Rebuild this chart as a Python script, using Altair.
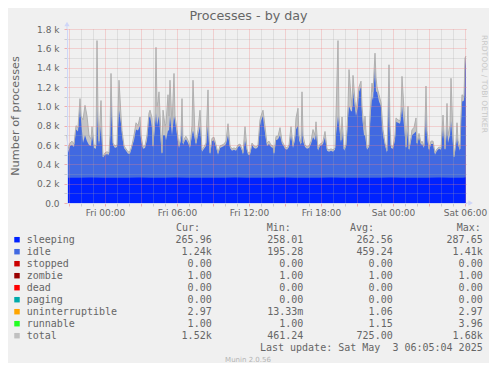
import altair as alt
import pandas as pd

# ---- data ----
# minutes since Thu 20:50 (5 min per pixel column)
minutes = [
    0, 5, 15, 25, 35, 45, 55, 65, 70, 80,
    90, 100, 110, 120, 125, 135, 145, 150, 155, 160,
    170, 175, 180, 190, 200, 210, 215, 220, 225, 230,
    240, 250, 260, 270, 275, 285, 295, 305, 315, 325,
    335, 345, 355, 365, 370, 380, 390, 400, 410, 415,
    425, 430, 440, 445, 450, 455, 460, 470, 475, 480,
    490, 495, 505, 510, 515, 525, 535, 540, 550, 560,
    570, 575, 580, 590, 595, 605, 615, 625, 630, 640,
    645, 655, 665, 675, 685, 695, 705, 710, 715, 725,
    735, 745, 755, 765, 775, 785, 795, 805, 815, 825,
    835, 845, 855, 865, 875, 880, 890, 900, 905, 915,
    925, 935, 945, 955, 965, 970, 980, 985, 995, 1000,
    1010, 1020, 1030, 1035, 1045, 1055, 1065, 1075, 1080, 1090,
    1100, 1110, 1120, 1130, 1140, 1145, 1155, 1160, 1170, 1175,
    1180, 1190, 1200, 1210, 1220, 1230, 1240, 1245, 1255, 1265,
    1275, 1280, 1290, 1300, 1310, 1320, 1330, 1340, 1345, 1355,
    1360, 1370, 1375, 1385, 1395, 1400, 1405, 1410, 1420, 1425,
    1430, 1440, 1445, 1455, 1460, 1470, 1475, 1485, 1490, 1500,
    1510, 1515, 1525, 1530, 1540, 1545, 1550, 1560, 1570, 1575,
    1580, 1590, 1600, 1605, 1610, 1615, 1620, 1630, 1640, 1645,
    1655, 1665, 1670, 1675, 1685, 1695, 1705, 1710, 1720, 1725,
    1735, 1745, 1750, 1760, 1770, 1775, 1785, 1790, 1795, 1800,
    1810, 1820, 1830, 1840, 1850, 1860, 1870, 1880, 1890, 1895,
    1900, 1905, 1915, 1920, 1930, 1935, 1945, 1950, 1955, 1965,
    1970, 1975, 1985, 1990, 1995,
]
total = [
    700, 560, 620, 640, 610, 800, 780, 1080, 900, 860,
    1010, 900, 700, 660, 790, 600, 590, 1680, 900, 640,
    1060, 700, 480, 520, 530, 520, 700, 1340, 900, 620,
    590, 600, 1270, 900, 750, 590, 560, 530, 530, 600,
    700, 830, 800, 890, 700, 580, 590, 700, 930, 960,
    880, 590, 900, 1610, 1000, 1050, 1150, 700, 520, 960,
    800, 820, 1120, 900, 1270, 800, 1340, 900, 760, 590,
    700, 1080, 620, 680, 690, 650, 590, 800, 1270, 700,
    620, 760, 960, 550, 580, 620, 1170, 700, 520, 670,
    680, 600, 520, 590, 600, 610, 640, 820, 590, 560,
    570, 560, 600, 610, 560, 520, 790, 560, 520, 520,
    620, 590, 580, 600, 860, 900, 960, 880, 700, 620,
    640, 600, 590, 520, 690, 690, 780, 640, 620, 580,
    570, 600, 790, 590, 700, 880, 980, 700, 620, 1150,
    700, 600, 580, 590, 640, 760, 700, 840, 560, 610,
    620, 640, 740, 560, 550, 560, 550, 570, 900, 1680,
    900, 650, 890, 560, 600, 760, 1000, 1380, 1100, 1000,
    1320, 1050, 950, 1100, 1200, 1260, 1000, 760, 900, 570,
    600, 900, 1240, 1150, 1550, 1300, 1200, 1120, 1040, 900,
    760, 620, 540, 900, 1430, 800, 590, 580, 700, 880,
    860, 850, 950, 1310, 960, 580, 1000, 560, 680, 760,
    780, 880, 620, 720, 620, 640, 590, 800, 1210, 750,
    560, 640, 640, 520, 560, 580, 570, 910, 560, 700,
    1030, 700, 800, 1290, 700, 480, 640, 830, 650, 560,
    900, 1120, 1100, 1500, 1520,
]
# top of the idle band (sleeping + idle, as drawn)
idle_top = [
    470, 520, 590, 600, 580, 760, 740, 1000, 860, 620,
    700, 640, 600, 590, 700, 570, 560, 1000, 700, 600,
    800, 600, 470, 500, 505, 500, 650, 1200, 800, 600,
    570, 580, 960, 820, 700, 570, 540, 510, 510, 580,
    650, 760, 750, 800, 650, 560, 570, 650, 880, 900,
    780, 570, 800, 930, 800, 850, 900, 600, 500, 700,
    700, 650, 750, 750, 900, 700, 900, 850, 700, 570,
    650, 850, 600, 650, 660, 620, 570, 700, 750, 650,
    600, 700, 800, 530, 560, 590, 800, 620, 500, 640,
    650, 580, 500, 570, 580, 590, 610, 700, 570, 540,
    550, 540, 580, 590, 540, 500, 650, 540, 500, 500,
    600, 570, 560, 580, 800, 850, 900, 800, 650, 590,
    610, 580, 570, 500, 650, 660, 700, 610, 600, 560,
    550, 580, 700, 570, 650, 760, 800, 650, 600, 780,
    640, 580, 560, 570, 610, 680, 650, 720, 540, 590,
    600, 610, 680, 540, 530, 540, 530, 550, 700, 900,
    800, 620, 750, 540, 580, 700, 880, 1000, 950, 950,
    1150, 980, 900, 1000, 1150, 1200, 900, 700, 700, 550,
    580, 820, 1100, 1060, 1400, 1150, 1150, 1050, 1000, 800,
    700, 600, 520, 800, 1290, 700, 570, 560, 650, 840,
    830, 820, 880, 1000, 800, 560, 750, 540, 640, 700,
    720, 740, 600, 680, 600, 610, 570, 700, 950, 680,
    540, 610, 610, 500, 540, 560, 550, 780, 540, 650,
    800, 620, 700, 850, 600, 470, 600, 680, 600, 540,
    850, 1050, 1060, 1420, 1510,
]
sleep_minutes = [
    0, 60, 120, 180, 240, 300, 360, 420, 480, 540,
    600, 660, 720, 780, 840, 900, 960, 1020, 1080, 1140,
    1200, 1260, 1320, 1380, 1440, 1500, 1560, 1620, 1680, 1740,
    1800, 1860, 1920, 1980, 1995,
]
sleeping = [
    262, 261, 263, 262, 260, 262, 264, 262, 261, 263,
    262, 262, 260, 262, 263, 261, 262, 262, 264, 262,
    261, 262, 263, 262, 261, 262, 262, 263, 262, 261,
    262, 263, 262, 262, 266,
]

legend_names = ["sleeping", "idle", "stopped", "zombie", "dead", "paging",
                "uninterruptible", "runnable", "total"]
legend_colors = ["#0022ff", "#4169e1", "#cc0000", "#990000", "#ff0000",
                 "#00aaaa", "#ffa500", "#22ff22", "#c0c0c0"]
cur_vals = ["265.96", "1.24k", "0.00", "1.00", "0.00", "0.00", "2.97", "1.00", "1.52k"]
min_vals = ["258.01", "195.28", "0.00", "1.00", "0.00", "0.00", "13.33m", "1.00", "461.24"]
avg_vals = ["262.56", "459.24", "0.00", "1.00", "0.00", "0.00", "1.06", "1.15", "725.00"]
max_vals = ["287.65", "1.41k", "0.00", "1.00", "0.00", "0.00", "2.97", "3.96", "1.68k"]
col_headers = ["Cur:", "Min:", "Avg:", "Max:"]

x_tick_minutes = [190, 550, 910, 1270, 1630, 1990]
x_tick_labels = ["Fri 00:00", "Fri 06:00", "Fri 12:00", "Fri 18:00", "Sat 00:00", "Sat 06:00"]
y_ticks = [0, 200, 400, 600, 800, 1000, 1200, 1400, 1600, 1800]
y_tick_labels = ["0.0", "0.2 k", "0.4 k", "0.6 k", "0.8 k", "1.0 k", "1.2 k", "1.4 k", "1.6 k", "1.8 k"]

title_text = "Processes - by day"
y_title = "Number of processes"
last_update = "Last update: Sat May\u00a0 3 06:05:04 2025"
watermark = "RRDTOOL / TOBI OETIKER"
footer = "Munin 2.0.56"

# ---- styling ----
W, H = 399, 174
FONT = "DejaVu Sans"
MONO = "DejaVu Sans Mono"
TXT = "#666666"
AXISC = "#cfd6f8"
MAJOR = "rgba(240,130,130,0.6)"
MINOR = "rgba(170,170,170,0.5)"

main = pd.DataFrame({"m": minutes, "total": total, "top": idle_top})
sdf = pd.DataFrame({"m": sleep_minutes, "sleeping": sleeping})
one = pd.DataFrame({"k": [0]})

def expr_map(keys, labels):
    e = "''"
    for k, l in reversed(list(zip(keys, labels))):
        e = f"datum.value == {k} ? '{l}' : ({e})"
    return e

xscale = alt.Scale(domain=[0, 1995], nice=False, zero=False)
yscale = alt.Scale(domain=[0, 1800], nice=False, zero=False)

xaxis = alt.Axis(
    values=list(range(10, 1996, 60)),
    labelExpr=expr_map(x_tick_minutes, x_tick_labels),
    labelOverlap=False, labelFlush=False, labelBound=False,
    grid=True, gridDash=[1, 1], gridWidth=1,
    gridColor={"condition": {"test": "(datum.value - 10) % 180 == 0", "value": MAJOR}, "value": MINOR},
    tickColor={"condition": {"test": "(datum.value - 10) % 180 == 0", "value": MAJOR}, "value": MINOR},
    tickSize=3, labelPadding=2, domainColor=AXISC, title="",
    labelFont=FONT, labelFontSize=9, labelColor=TXT, zindex=1,
)
yaxis = alt.Axis(
    values=list(range(0, 1801, 100)),
    labelExpr=expr_map(y_ticks, y_tick_labels),
    labelOverlap=False, labelFlush=False, labelBound=False,
    grid=True, gridDash=[1, 1], gridWidth=1,
    gridColor={"condition": {"test": "datum.value % 200 == 0", "value": MAJOR}, "value": MINOR},
    tickColor={"condition": {"test": "datum.value % 200 == 0", "value": MAJOR}, "value": MINOR},
    tickSize=3, labelPadding=5, domainColor=AXISC, title="",
    labelFont=FONT, labelFontSize=9, labelColor=TXT, zindex=1,
)

def X(f):
    return alt.X(f"{f}:Q", scale=xscale, axis=xaxis)

def Y(f):
    return alt.Y(f"{f}:Q", scale=yscale, axis=yaxis)

layers = []
layers.append(alt.Chart(main).mark_area(color="#c4c4c4", opacity=1, interpolate="linear")
              .encode(x=X("m"), y=Y("total")))
layers.append(alt.Chart(main).mark_area(color="#4169e1", opacity=1, interpolate="linear")
              .encode(x=X("m"), y=Y("top")))
layers.append(alt.Chart(sdf).mark_area(color="#0022ff", opacity=1, interpolate="linear")
              .encode(x=X("m"), y=Y("sleeping")))
layers.append(alt.Chart(main).mark_line(color="#b0b0b0", strokeWidth=1, interpolate="linear")
              .encode(x=X("m"), y=Y("total")))

# axis extensions and arrows
ext = pd.DataFrame({"m": [0], "v": [1800], "v2": [1848]})
layers.append(alt.Chart(ext).mark_rule(color=AXISC).encode(x=X("m"), y=Y("v"), y2="v2:Q"))
ext2 = pd.DataFrame({"m": [1995], "m2": [2012], "v": [0]})
layers.append(alt.Chart(ext2).mark_rule(color=AXISC).encode(x=X("m"), x2="m2:Q", y=Y("v")))
arr1 = pd.DataFrame({"m": [0], "v": [1852]})
layers.append(alt.Chart(arr1).mark_point(shape="triangle-up", filled=True, size=28, color=AXISC, opacity=1)
              .encode(x=X("m"), y=Y("v")))
arr2 = pd.DataFrame({"m": [2018], "v": [0]})
layers.append(alt.Chart(arr2).mark_point(shape="triangle-right", filled=True, size=28, color=AXISC, opacity=1)
              .encode(x=X("m"), y=Y("v")))

def txt(x, y, s, size=10, color=TXT, align="left", font=MONO, angle=0):
    return alt.Chart(one).mark_text(
        text=s, fontSize=size, color=color, align=align, baseline="middle", font=font, angle=angle
    ).encode(x=alt.value(x), y=alt.value(y))

# titles (kept inside the drawable canvas)
layers.append(txt(181.5, -13, title_text, size=12.7, font=FONT, align="center"))
layers.append(txt(-51, 87, y_title, size=11.3, font=FONT, align="center", angle=270))
layers.append(txt(417, 55, watermark, size=7.6, font=FONT, color="#c8c8c8", align="center", angle=90))
layers.append(txt(181, 331, footer, size=7, font=FONT, color="#b4b4b4", align="center"))

# legend table
col_ends = [144.7, 236.3, 325.7, 415.7]
head_x = [109, 199.7, 283, 389.7]
for hx, h in zip(head_x, col_headers):
    layers.append(txt(hx, 199.3, h))
for i, (name, colr) in enumerate(zip(legend_names, legend_colors)):
    yy = 210.7 + 12 * i
    layers.append(alt.Chart(one).mark_square(size=30, color=colr, opacity=1)
                  .encode(x=alt.value(-50), y=alt.value(yy)))
    layers.append(txt(-40.3, yy, name))
    for ce, vals in zip(col_ends, [cur_vals, min_vals, avg_vals, max_vals]):
        s = vals[i]
        if not s[-1].isalpha():
            s = s + "\u00a0"
        layers.append(txt(ce, yy, s, align="right"))
layers.append(txt(415.7, 318.7, last_update, align="right"))

chart = alt.layer(*layers).properties(
    width=W, height=H,
    background="#f0f0f0",
    padding={"left": 59, "top": 21, "right": 23, "bottom": 160},
    autosize=alt.AutoSizeParams(type="none"),
).configure_view(strokeWidth=0)

chart.save("out.html", embed_options={"renderer": "svg", "actions": False})
